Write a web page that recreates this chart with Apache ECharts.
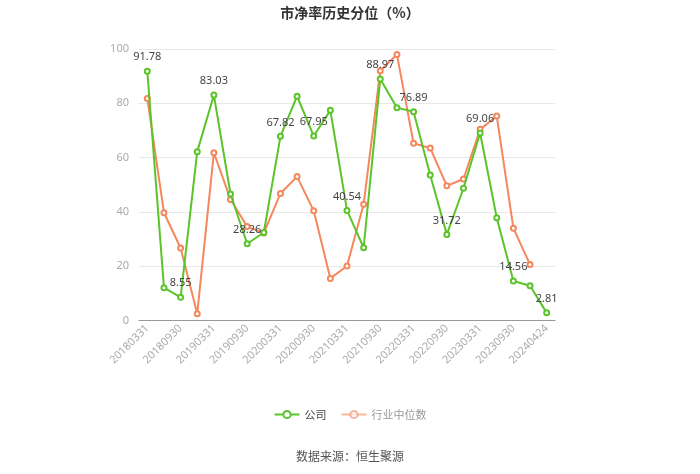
<!DOCTYPE html>
<html><head><meta charset="utf-8">
<script src="https://cdn.jsdelivr.net/npm/echarts@6/dist/echarts.min.js"></script>
<style>html,body{margin:0;padding:0;background:#fff}#c{width:700px;height:474px}</style>
</head><body><div id="c"></div>
<script>
var categories = ['20180331','20180630','20180930','20181231','20190331','20190630','20190930','20191231','20200331','20200630','20200930','20201231','20210331','20210630','20210930','20211231','20220331','20220630','20220930','20221231','20230331','20230630','20230930','20231231','20240424'];
var companyValues = [91.78,12.1,8.55,62.2,83.03,46.6,28.26,32.4,67.82,82.6,67.95,77.4,40.54,26.8,88.97,78.4,76.89,53.6,31.72,48.7,69.06,37.8,14.56,12.8,2.81];
var industryValues = [81.8,39.7,26.7,2.5,61.8,44.6,34.6,32.2,46.8,53.0,40.4,15.5,20.1,42.8,92.0,98.0,65.3,63.5,49.6,52.1,70.4,75.3,34.0,20.6,null];
var yTicks = [0,20,40,60,80,100];

var chart = echarts.init(document.getElementById('c'));
chart.setOption({
  animation:false,
  title:{text:'市净率历史分位（%）',left:'center',top:1,textStyle:{fontSize:14,fontWeight:'bold',color:'#333',fontFamily:'Noto Sans CJK SC'}},
  graphic:[{type:'text',left:'center',top:450,style:{text:'数据来源：恒生聚源',fill:'#555',fontSize:12,fontFamily:'Noto Sans CJK SC'}}],
  legend:{bottom:49,left:'center',itemWidth:25,itemHeight:9,itemGap:14,
    textStyle:{fontSize:11,fontFamily:'Noto Sans CJK SC'},
    data:[{name:'公司',textStyle:{color:'#444'}},{name:'行业中位数',textStyle:{color:'#999'},itemStyle:{opacity:0.6},lineStyle:{opacity:0.6}}]},
  grid:{left:139,right:145,top:49,bottom:153.5},
  xAxis:{type:'category',data:categories,boundaryGap:true,
    axisLine:{lineStyle:{color:'#999'}},
    axisTick:{alignWithLabel:true,interval:1,lineStyle:{color:'#999'}},
    axisLabel:{interval:1,rotate:45,color:'#aaa',fontSize:11,fontFamily:'Noto Sans',margin:6}},
  yAxis:{type:'value',min:yTicks[0],max:yTicks[yTicks.length-1],interval:20,
    axisLine:{show:false},axisTick:{show:false},
    axisLabel:{color:'#aaa',fontSize:11,fontFamily:'Noto Sans',margin:10},
    splitLine:{lineStyle:{color:'#e8e8e8'}}},
  series:[
    {name:'公司',type:'line',data:companyValues,symbol:'emptyCircle',symbolSize:5,
     itemStyle:{color:'#5ac42a'},lineStyle:{width:2,color:'#5ac42a'},z:3,
     label:{show:true,position:'top',color:'#444',fontSize:11,fontFamily:'Noto Sans',
       formatter:function(p){return p.dataIndex%2===0?p.value.toFixed(2):'';}}},
    {name:'行业中位数',type:'line',data:industryValues,symbol:'emptyCircle',symbolSize:5,
     itemStyle:{color:'#f5875c'},lineStyle:{width:2,color:'#f5875c'},z:2}
  ]
});
</script></body></html>
